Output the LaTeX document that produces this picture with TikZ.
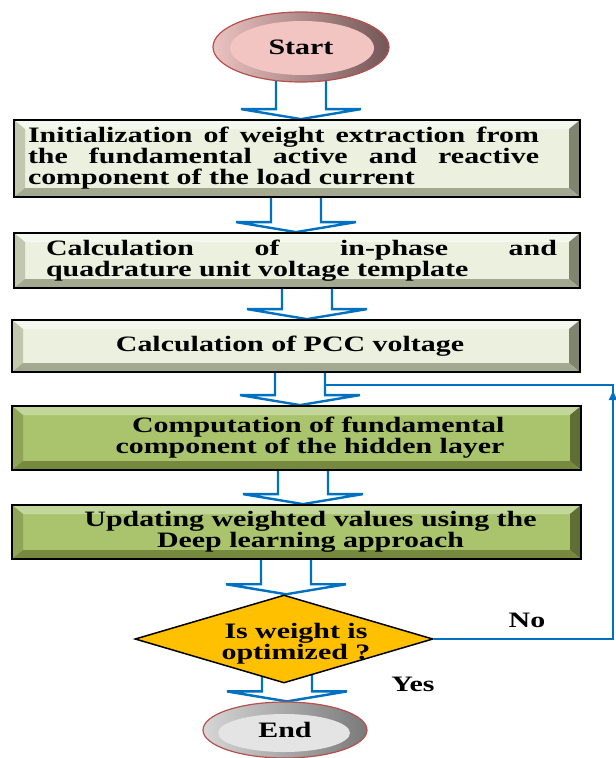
\documentclass[tikz,border=0pt]{standalone}
\usepackage{fontspec}
\setmainfont{Liberation Serif}[FakeStretch=1.36]
\usetikzlibrary{shapes.geometric,calc,backgrounds,arrows.meta}

\definecolor{arrblue}{HTML}{0070C0}
\definecolor{lface}{HTML}{EBF1DE}
\definecolor{ltop}{HTML}{F5F8EE}
\definecolor{lleft}{HTML}{C2C8B0}
\definecolor{lright}{HTML}{7E846E}
\definecolor{lbottom}{HTML}{A3A891}
\definecolor{gface}{HTML}{A9C46C}
\definecolor{gtop}{HTML}{C4D79A}
\definecolor{gleft}{HTML}{8EA458}
\definecolor{gright}{HTML}{5F6E33}
\definecolor{gbottom}{HTML}{76893F}
\definecolor{dfill}{HTML}{FFC000}
\definecolor{ringred}{HTML}{B5504D}
\definecolor{startface}{HTML}{F2C4C2}
\definecolor{startl}{HTML}{EBC2C0}
\definecolor{startr}{HTML}{735656}
\definecolor{endface}{HTML}{E4E4E4}
\definecolor{endl}{HTML}{D6D6D6}
\definecolor{endr}{HTML}{7A7A7A}

\newcommand\blockarr[3]{%
  \draw[blk] let \p1=(#1.center), \p2=(#2.north) in
    (#3pt-25pt,\y1) -- (#3pt-25pt,\y2+10pt) -- (#3pt-60pt,\y2+10pt) -- (#3pt,\y2)
    -- (#3pt+60pt,\y2+10pt) -- (#3pt+25pt,\y2+10pt) -- (#3pt+25pt,\y1);}

\tikzset{
  bevelbox/.style n args={5}{rectangle, draw=black, line width=1.8pt, fill=#1, inner sep=0pt,
    path picture={
      \fill[#2] (path picture bounding box.north west) -- (path picture bounding box.north east)
        -- ([xshift=-11pt,yshift=-9pt]path picture bounding box.north east)
        -- ([xshift=11pt,yshift=-9pt]path picture bounding box.north west) -- cycle;
      \fill[#3] (path picture bounding box.north west)
        -- ([xshift=11pt,yshift=-9pt]path picture bounding box.north west)
        -- ([xshift=11pt,yshift=9pt]path picture bounding box.south west)
        -- (path picture bounding box.south west) -- cycle;
      \fill[#4] (path picture bounding box.north east)
        -- ([xshift=-11pt,yshift=-9pt]path picture bounding box.north east)
        -- ([xshift=-11pt,yshift=9pt]path picture bounding box.south east)
        -- (path picture bounding box.south east) -- cycle;
      \fill[#5] (path picture bounding box.south west)
        -- ([xshift=11pt,yshift=9pt]path picture bounding box.south west)
        -- ([xshift=-11pt,yshift=9pt]path picture bounding box.south east)
        -- (path picture bounding box.south east) -- cycle;
    }},
  lightbox/.style={bevelbox={lface}{ltop}{lleft}{lright}{lbottom}},
  greenbox/.style={bevelbox={gface}{gtop}{gleft}{gright}{gbottom}},
  blk/.style={draw=arrblue, line width=2.4pt, line join=miter},
  loopline/.style={draw=arrblue, line width=1.8pt},
  startterm/.style={ellipse, draw=ringred, line width=1.2pt, left color=startl, right color=startr,
    inner sep=0pt, minimum width=176pt, minimum height=70pt,
    path picture={\fill[startface] ([xshift=1pt,yshift=-1pt]path picture bounding box.center)
      ellipse [x radius=72pt, y radius=27pt];}},
  endterm/.style={ellipse, draw=ringred, line width=1.2pt, left color=endl, right color=endr,
    inner sep=0pt, minimum width=164pt, minimum height=56pt,
    path picture={\fill[endface] ([xshift=-1pt,yshift=-3pt]path picture bounding box.center)
      ellipse [x radius=66pt, y radius=19pt];}},
  decision/.style={diamond, draw=black, line width=1.5pt, fill=dfill, inner sep=0pt,
    minimum width=298pt, minimum height=88pt},
  lbl/.style={inner sep=0pt}
}

\begin{document}
\begin{tikzpicture}[x=1pt,y=-1pt,font=\fontsize{22}{21}\selectfont\bfseries]
\useasboundingbox (0,0) rectangle (616,758);

\node[startterm] (start) at (301,47) {Start};
\node[lightbox, minimum width=566pt, minimum height=77pt] (b1) at (297,158.5)
  {\makebox[0pt]{\hspace{-27pt}\parbox{511pt}{Initialization of weight extraction from\linebreak the fundamental active and reactive\linebreak component of the load current}}};
\node[lightbox, minimum width=566pt, minimum height=55pt] (b2) at (297,260.5)
  {\makebox[0pt]{\hspace{9pt}\parbox{511pt}{Calculation of in-phase and\linebreak quadrature unit voltage template}}};
\node[lightbox, minimum width=568pt, minimum height=52pt] (b3) at (296,346)
  {\makebox[0pt]{\hspace{-12pt}Calculation of PCC voltage}};
\node[greenbox, minimum width=569pt, minimum height=64pt] (b4) at (296.5,438)
  {\makebox[0pt]{\hspace{16pt}\parbox{400pt}{\raggedleft Computation of fundamental\\component of the hidden layer}}};
\node[greenbox, minimum width=569pt, minimum height=54pt] (b5) at (296.5,532)
  {\makebox[0pt]{\hspace{28pt}\parbox{480pt}{\centering Updating weighted values using the\\Deep learning approach}}};
\node[decision] (d) at (284,639)
  {\makebox[0pt]{\hspace{24pt}\raisebox{-10pt}[0pt][0pt]{\parbox{200pt}{\centering Is weight is\\optimized ?}}}};
\node[endterm] (end) at (285,730) {End};

\node[lbl] (no) at (527,620) {No};
\node[lbl] (yes) at (413,684) {Yes};

\coordinate (lc1) at (613,639);
\coordinate (lc2) at (613,385);
\coordinate (lj) at (325,385);

\begin{pgfonlayer}{background}
\blockarr{start}{b1}{301}
\blockarr{b1}{b2}{296}
\blockarr{b2}{b3}{307}
\blockarr{b3}{b4}{300}
\blockarr{b4}{b5}{303}
\blockarr{b5}{d}{286}
\blockarr{d}{end}{287}
\end{pgfonlayer}

\draw[loopline] (d.east) -- (lc1) -- (lc2) -- (lj);
\draw[loopline, -{Triangle[width=8pt,length=9pt]}] (lc1) -- ($(lc2)+(0,6)$);
\end{tikzpicture}
\end{document}
